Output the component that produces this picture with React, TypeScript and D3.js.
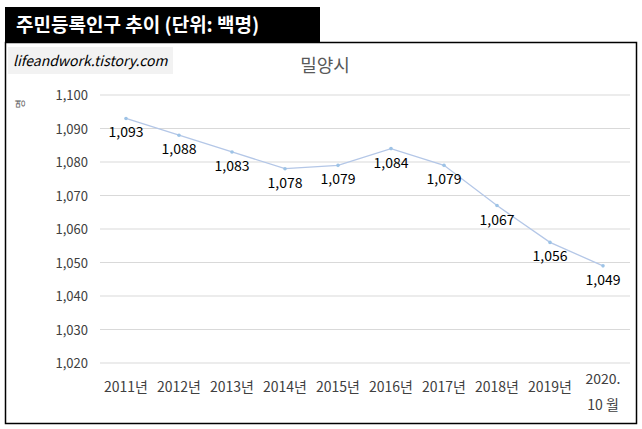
import React from "react";
import * as d3 from "d3";

const categories = ["2011년","2012년","2013년","2014년","2015년","2016년","2017년","2018년","2019년","2020.|10 월"];
const values = [1093,1088,1083,1078,1079,1084,1079,1067,1056,1049];
const yTicks = [1020,1030,1040,1050,1060,1070,1080,1090,1100];

export default function App() {
  const W = 642, H = 429;
  const x = d3.scalePoint<string>().domain(categories).range([126, 603]);
  const y = d3.scaleLinear().domain([1020, 1100]).range([363, 95]);
  const line = d3.line<number>().x((_, i) => x(categories[i])!).y(d => y(d));
  const font = "'Malgun Gothic','Noto Sans CJK KR',sans-serif";
  const fmt = d3.format(",");
  return (
    <svg width={W} height={H} style={{ position: "absolute", left: 0, top: 0, fontFamily: font }}>
      <rect x={0} y={0} width={W} height={H} fill="#fff" />
      <rect x={5.5} y={42.5} width={631} height={381} fill="#fff" stroke="#000" strokeWidth={1.5} />
      <rect x={5} y={7} width={315} height={36} fill="#000" />
      <text x={16} y={32} fill="#fff" fontSize={19} fontWeight="bold">주민등록인구 추이 (단위: 백명)</text>
      <rect x={8} y={47} width={165} height={27} fill="#f2f2f2" />
      <text x={13} y={66} fontSize={14} fontStyle="italic" fill="#000">lifeandwork.tistory.com</text>
      <text x={325} y={72} fontSize={18} fill="#595959" textAnchor="middle">밀양시</text>
      <text transform="translate(24,104) rotate(-90)" fontSize={10} fill="#595959" textAnchor="middle">명</text>
      {yTicks.map(t => (
        <g key={t}>
          <line x1={100} x2={630} y1={y(t)} y2={y(t)} stroke="#d9d9d9" />
          <text x={88} y={y(t) + 5} fontSize={13} fill="#404040" textAnchor="end">{fmt(t)}</text>
        </g>
      ))}
      <path d={line(values)!} fill="none" stroke="#b4c7e7" strokeWidth={1.3} />
      {values.map((v, i) => (
        <g key={i}>
          <circle cx={x(categories[i])} cy={y(v)} r={1.8} fill="#9dc3e6" />
          <text x={x(categories[i])} y={y(v) + 19} fontSize={14} fill="#000" textAnchor="middle">{fmt(v)}</text>
        </g>
      ))}
      {categories.map((c, i) => {
        const parts = c.split("|");
        return parts.map((p, j) => (
          <text key={i + "-" + j} x={x(c)!} y={(parts.length > 1 ? 384 : 392) + j * 26}
            fontSize={14} fill="#404040" textAnchor="middle">{p}</text>
        ));
      })}
    </svg>
  );
}
